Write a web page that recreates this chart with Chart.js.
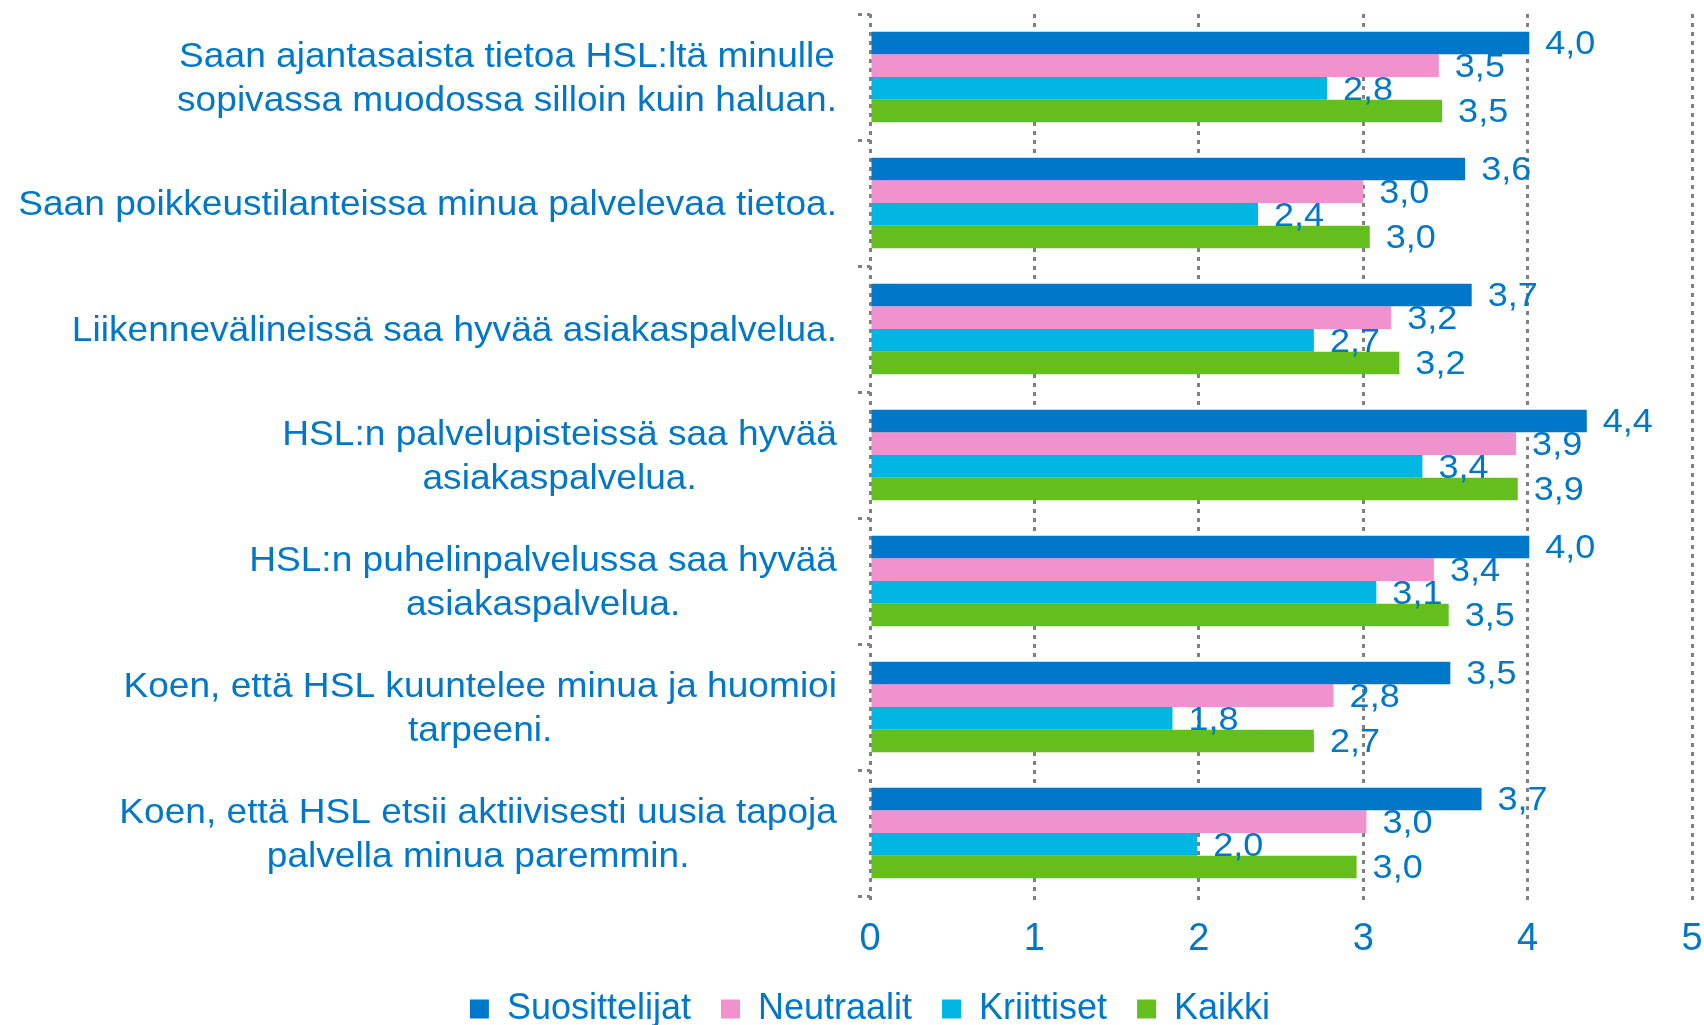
<!DOCTYPE html>
<html>
<head>
<meta charset="utf-8">
<script src="https://cdn.jsdelivr.net/npm/chart.js@4.4.1/dist/chart.umd.min.js"></script>
<style>
  body { margin: 0; background: #fff; }
  #wrap { width: 1704px; height: 1025px; }
</style>
</head>
<body>
<div id="wrap"><canvas id="grafico" width="1704" height="1025"></canvas></div>
<script>
// kategoriat (rivitetty kuten alkuperäisessä)
var kategoriat = [
    ["Saan ajantasaista tietoa HSL:ltä minulle", "sopivassa muodossa silloin kuin haluan."],
    ["Saan poikkeustilanteissa minua palvelevaa tietoa."],
    ["Liikennevälineissä saa hyvää asiakaspalvelua."],
    ["HSL:n palvelupisteissä saa hyvää", "asiakaspalvelua."],
    ["HSL:n puhelinpalvelussa saa hyvää", "asiakaspalvelua."],
    ["Koen, että HSL kuuntelee minua ja huomioi", "tarpeeni."],
    ["Koen, että HSL etsii aktiivisesti uusia tapoja", "palvella minua paremmin."]
];

var suosittelijat = [4.01, 3.62, 3.66, 4.36, 4.01, 3.53, 3.72];
var neutraalit    = [3.46, 3.00, 3.17, 3.93, 3.43, 2.82, 3.02];
var kriittiset    = [2.78, 2.36, 2.70, 3.36, 3.08, 1.84, 1.99];
var kaikki        = [3.48, 3.04, 3.22, 3.94, 3.52, 2.70, 2.96];

var xTicks = [0, 1, 2, 3, 4, 5];

var sininen = "#0077C8";
var harmaa = "#808080";
var fontti = "'Liberation Sans', Arial, sans-serif";
var pisteet = [4, 5];

var tekstiVenytys = 1.06;

function muotoile(v){
    return v.toFixed(1).replace(".", ",");
}

// omat kategoriatekstit: rivit keskitetty, lohko oikeaan reunaan
var kategoriaTekstit = {
    id: 'kategoriaTekstit',
    afterDraw: function(chart){
        var ctx = chart.ctx;
        var y = chart.scales.y;
        var oikea = chart.chartArea.left - 33;
        ctx.save();
        ctx.font = "35px " + fontti;
        ctx.fillStyle = sininen;
        ctx.textAlign = "center";
        ctx.textBaseline = "middle";
        for (var i = 0; i < kategoriat.length; i++) {
            var rivit = kategoriat[i];
            var leveys = 0;
            for (var j = 0; j < rivit.length; j++) {
                leveys = Math.max(leveys, ctx.measureText(rivit[j]).width * tekstiVenytys);
            }
            var cx = oikea - leveys / 2;
            var cy = y.getPixelForTick(i) + 2;
            for (var j = 0; j < rivit.length; j++) {
                var ry = cy + (j - (rivit.length - 1) / 2) * 44;
                ctx.save();
                ctx.translate(cx, ry);
                ctx.scale(tekstiVenytys, 1);
                ctx.fillText(rivit[j], 0, 0);
                ctx.restore();
            }
        }
        ctx.restore();
    }
};

// arvot palkkien perään
var arvoTekstit = {
    id: 'arvoTekstit',
    afterDatasetsDraw: function(chart){
        var ctx = chart.ctx;
        ctx.save();
        ctx.font = "34px " + fontti;
        ctx.fillStyle = sininen;
        ctx.textAlign = "left";
        ctx.textBaseline = "middle";
        chart.data.datasets.forEach(function(ds, d){
            var meta = chart.getDatasetMeta(d);
            meta.data.forEach(function(bar, i){
                ctx.save();
                ctx.translate(bar.x + 16, bar.y + 2);
                ctx.scale(tekstiVenytys, 1);
                ctx.fillText(muotoile(ds.data[i]), 0, 0);
                ctx.restore();
            });
        });
        ctx.restore();
    }
};

var data = {
    labels: kategoriat,
    datasets: [
        { label: "Suosittelijat", data: suosittelijat, backgroundColor: "#0077C8" },
        { label: "Neutraalit",    data: neutraalit,    backgroundColor: "#F092CD" },
        { label: "Kriittiset",    data: kriittiset,    backgroundColor: "#00B7E4" },
        { label: "Kaikki",        data: kaikki,        backgroundColor: "#64BE1E" }
    ]
};

var ctx = document.getElementById('grafico').getContext('2d');
var chart = new Chart(ctx, {
    type: 'bar',
    data: data,
    options: {
        responsive: false,
        animation: false,
        indexAxis: 'y',
        categoryPercentage: 0.72,
        barPercentage: 1.0,
        layout: {
            padding: { top: 14, right: 0, left: 36, bottom: -12 }
        },
        scales: {
            x: {
                min: 0,
                max: 5,
                afterBuildTicks: function(scale){
                    scale.ticks = xTicks.map(function(v){ return { value: v }; });
                },
                afterFit: function(scale){
                    // piirtoalueen alareuna n. 896 px, oikea reuna n. 1691 px
                    scale.height = scale.chart.height + 12 - scale.chart.legend.height - 896;
                    scale.paddingRight = 12;
                    scale.paddingLeft = 0;
                },
                ticks: {
                    color: sininen,
                    font: { size: 38, family: fontti },
                    padding: 13
                },
                grid: {
                    color: harmaa,
                    lineWidth: 3,
                    tickLength: 8,
                    tickBorderDash: pisteet
                },
                border: { display: false, dash: pisteet }
            },
            y: {
                afterFit: function(scale){
                    scale.width = 834;
                },
                ticks: { display: false },
                grid: {
                    offset: true,
                    drawOnChartArea: false,
                    drawTicks: true,
                    tickLength: 12,
                    color: harmaa,
                    lineWidth: 3,
                    tickBorderDash: pisteet
                },
                border: { display: false, dash: pisteet }
            }
        },
        plugins: {
            legend: {
                position: 'bottom',
                labels: {
                    boxWidth: 19,
                    boxHeight: 19,
                    color: sininen,
                    font: { size: 36, family: fontti },
                    padding: 30
                }
            },
            tooltip: { enabled: false },
            title: { display: false }
        }
    },
    plugins: [kategoriaTekstit, arvoTekstit]
});
</script>
</body>
</html>
